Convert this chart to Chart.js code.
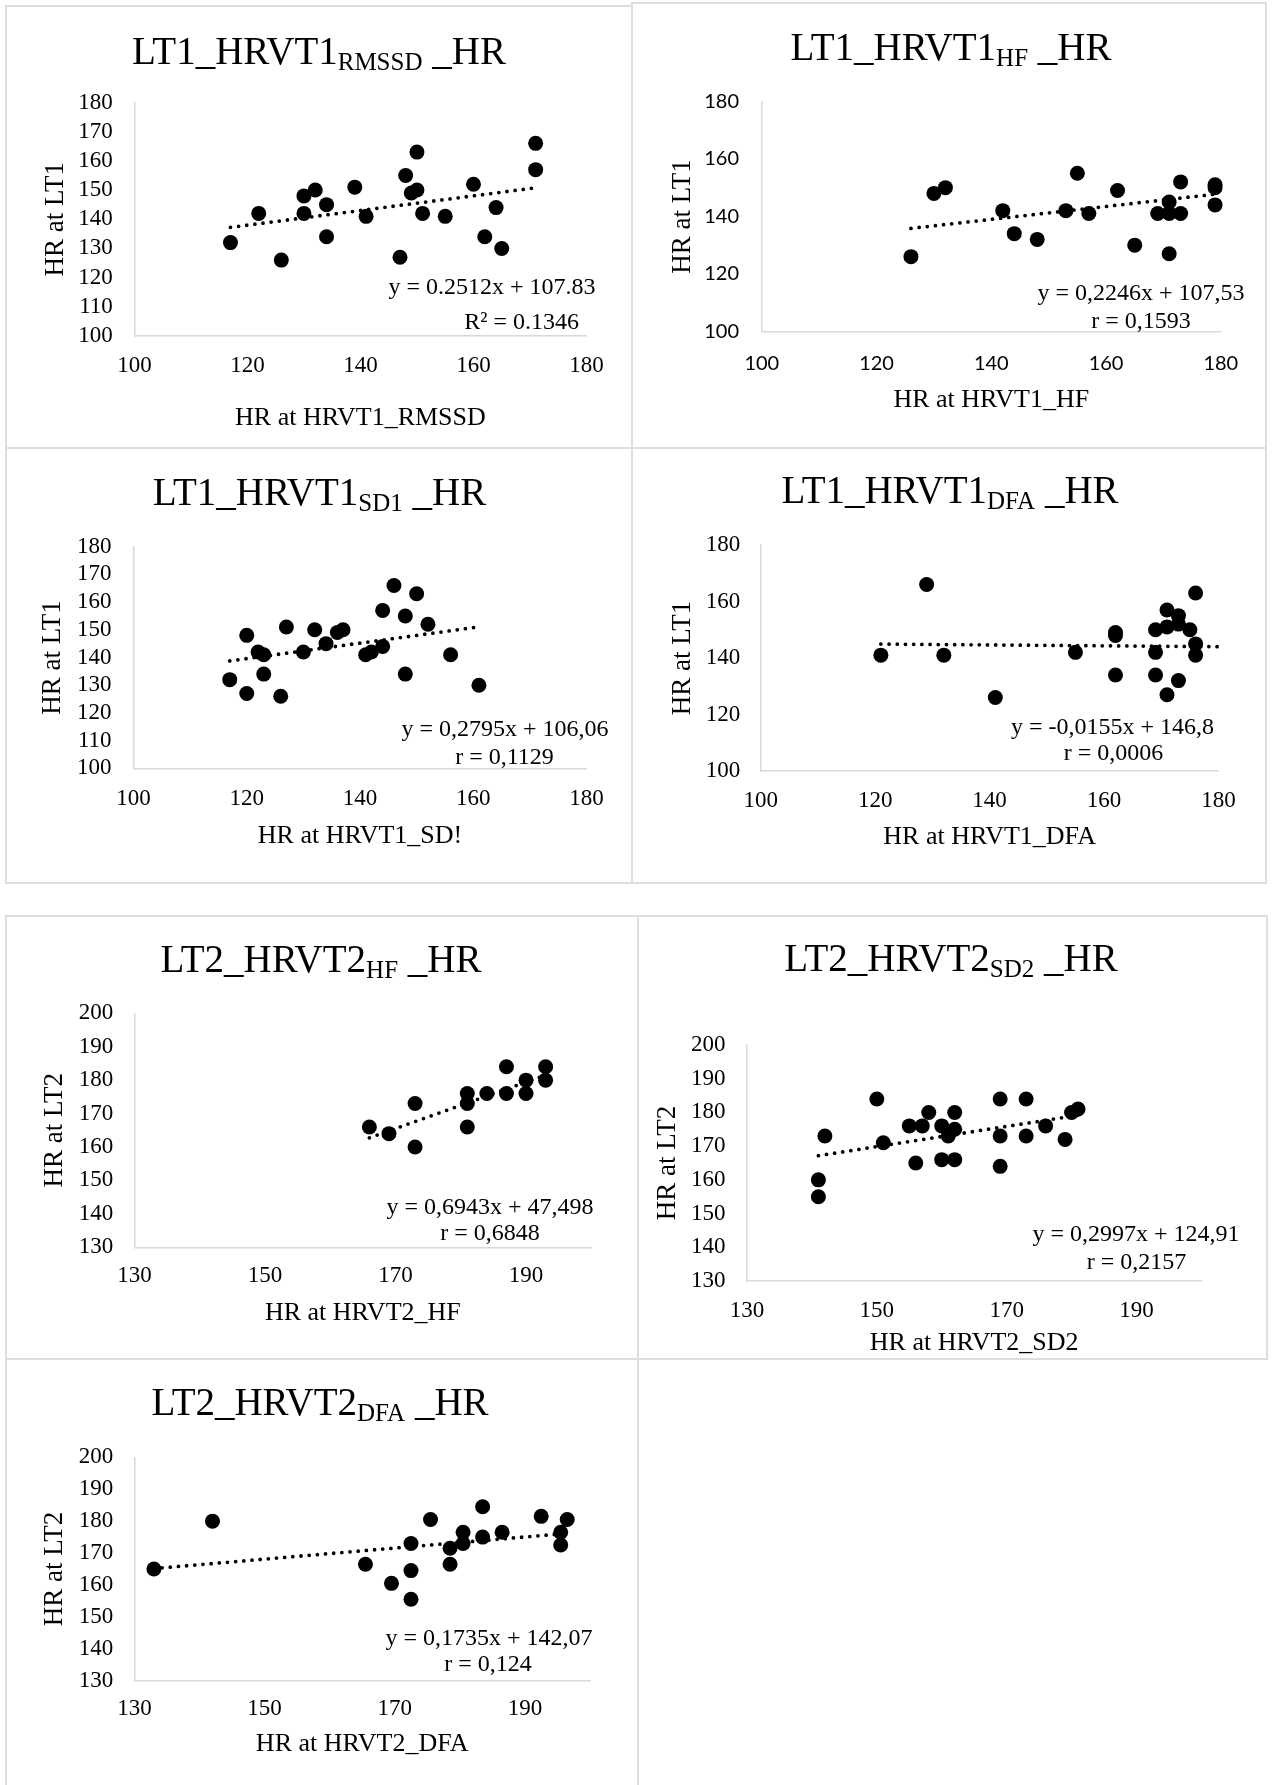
<!DOCTYPE html>
<html>
<head>
<meta charset="utf-8">
<script src="https://cdn.jsdelivr.net/npm/chart.js@4.4.1/dist/chart.umd.min.js"></script>
<style>
html, body { margin: 0; padding: 0; background: #fff; width: 1272px; height: 1785px; overflow: hidden; }
.panel { position: absolute; box-sizing: border-box; border: 2px solid #dedede; }
canvas { position: absolute; }
.ttl { position: absolute; width: 600px; text-align: center; white-space: nowrap; color: #000;
       font-family: "Liberation Serif", "Times New Roman", serif; font-size: 39px; line-height: 39px; }
.ttl span { position: relative; top: 6px; font-size: 25px; line-height: 0; }
</style>
</head>
<body>
<script>
// chart texts
const titleMain = ['LT1_HRVT1', 'LT1_HRVT1', 'LT1_HRVT1', 'LT1_HRVT1', 'LT2_HRVT2', 'LT2_HRVT2', 'LT2_HRVT2'];
const titleSub = ['RMSSD', 'HF', 'SD1', 'DFA', 'HF', 'SD2', 'DFA'];
const xTitles = ['HR at HRVT1_RMSSD', 'HR at HRVT1_HF', 'HR at HRVT1_SD!', 'HR at HRVT1_DFA',
                 'HR at HRVT2_HF', 'HR at HRVT2_SD2', 'HR at HRVT2_DFA'];
const yTitles = ['HR at LT1', 'HR at LT1', 'HR at LT1', 'HR at LT1', 'HR at LT2', 'HR at LT2', 'HR at LT2'];
const eqLine1 = ['y = 0.2512x + 107.83', 'y = 0,2246x + 107,53', 'y = 0,2795x + 106,06', 'y = -0,0155x + 146,8',
                 'y = 0,6943x + 47,498', 'y = 0,2997x + 124,91', 'y = 0,1735x + 142,07'];
const eqLine2 = ['R² = 0.1346', 'r = 0,1593', 'r = 0,1129', 'r = 0,0006', 'r = 0,6848', 'r = 0,2157', 'r = 0,124'];

// axis ranges and tick labels
const xMin = [100, 100, 100, 100, 130, 130, 130];
const xMax = [180, 180, 180, 180, 200, 200, 200];
const yMin = [100, 100, 100, 100, 130, 130, 130];
const yMax = [180, 180, 180, 180, 200, 200, 200];
const ticksLT1x = [100, 120, 140, 160, 180];
const ticksLT2x = [130, 150, 170, 190];
const ticks10 = [100, 110, 120, 130, 140, 150, 160, 170, 180];
const ticks20 = [100, 120, 140, 160, 180];
const ticksLT2y = [130, 140, 150, 160, 170, 180, 190, 200];
const xTicks = [ticksLT1x, ticksLT1x, ticksLT1x, ticksLT1x, ticksLT2x, ticksLT2x, ticksLT2x];
const yTicks = [ticks10, ticks20, ticks10, ticks20, ticksLT2y, ticksLT2y, ticksLT2y];

// trendlines (from the printed equations)
const slopes = [0.2512, 0.2246, 0.2795, -0.0155, 0.6943, 0.2997, 0.1735];
const intercepts = [107.83, 107.53, 106.06, 146.8, 47.498, 124.91, 142.07];
const trendFrom = [117, 126, 117, 121, 166, 141, 133];
const trendTo = [171, 179, 161, 180, 193, 181, 196];

// series
const rmssdX = [117, 122, 126, 130, 130, 132, 134, 134, 139, 141, 147, 148, 149, 150, 150, 151, 155, 160, 162, 164, 165, 171, 171];
const rmssdY = [132, 142, 126, 142, 148, 150, 145, 134, 151, 141, 127, 155, 149, 163, 150, 142, 141, 152, 134, 144, 130, 166, 157];

const hf1X = [126, 130, 132, 142, 144, 148, 153, 155, 157, 162, 165, 169, 171, 171, 171, 173, 173, 179, 179, 179];
const hf1Y = [126, 148, 150, 142, 134, 132, 142, 155, 141, 149, 130, 141, 145, 141, 127, 152, 141, 151, 150, 144];

const sd1X = [117, 120, 120, 122, 123, 123, 126, 127, 130, 132, 134, 136, 137, 141, 142, 144, 144, 146, 148, 148, 150, 152, 156, 161];
const sd1Y = [132, 148, 127, 142, 141, 134, 126, 151, 142, 150, 145, 149, 150, 141, 142, 157, 144, 166, 155, 134, 163, 152, 141, 130];

const dfa1X = [121, 129, 132, 141, 155, 162, 162, 162, 169, 169, 169, 171, 171, 171, 173, 173, 173, 175, 176, 176, 176];
const dfa1Y = [141, 166, 141, 126, 142, 149, 148, 134, 150, 142, 134, 157, 151, 127, 155, 152, 132, 150, 163, 145, 141];

const hf2X = [166, 169, 173, 173, 181, 181, 181, 184, 187, 187, 190, 190, 193, 193];
const hf2Y = [166, 164, 173, 160, 176, 173, 166, 176, 184, 176, 180, 176, 184, 180];

const sd2X = [141, 141, 142, 150, 151, 155, 156, 157, 158, 160, 160, 161, 162, 162, 162, 169, 169, 169, 173, 173, 176, 179, 180, 181];
const sd2Y = [160, 155, 173, 184, 171, 176, 165, 176, 180, 176, 166, 173, 180, 175, 166, 184, 173, 164, 184, 173, 176, 172, 180, 181];

const dfa2X = [133, 142, 165.5, 169.5, 172.5, 172.5, 172.5, 175.5, 178.5, 178.5, 180.5, 180.5, 183.5, 183.5, 186.5, 192.5, 195.5, 195.5, 196.5];
const dfa2Y = [165, 180, 166.5, 160.5, 173, 164.5, 155.5, 180.5, 171.5, 166.5, 176.5, 173, 184.5, 175, 176.5, 181.5, 176.5, 172.5, 180.5];

const seriesX = [rmssdX, hf1X, sd1X, dfa1X, hf2X, sd2X, dfa2X];
const seriesY = [rmssdY, hf1Y, sd1Y, dfa1Y, hf2Y, sd2Y, dfa2Y];

// page layout (px on the page)
const serif = '"Liberation Serif", "Times New Roman", serif';
const sans = 'Lato, "Noto Sans", sans-serif';
const layout = [
  {box: [6, 6, 632, 448], plot: [134.4, 102.5, 586.5, 336], yGap: 21.6, xTick: 365.5, xTitle: 418.3, yTitle: 56,
   eq: [[492, 288], [521.6, 322.5]], title: [319, 63.3], tickFont: serif, tickSize: 23},
  {box: [632, 3, 1266, 448], plot: [761.8, 101.4, 1220.8, 331.4], yGap: 22.8, xTick: 363.3, xTitle: 400, yTitle: 682.5,
   eq: [[1141, 293.5], [1141, 321.5]], title: [951, 60], tickFont: sans, tickSize: 20},
  {box: [6, 448, 632, 883], plot: [133.5, 546.7, 586.5, 768.3], yGap: 21.9, xTick: 799.2, xTitle: 836, yTitle: 53.3,
   eq: [[505, 729.3], [504.5, 757.7]], title: [319.5, 504.3], tickFont: serif, tickSize: 23},
  {box: [632, 448, 1266, 883], plot: [760.7, 545, 1218.5, 771], yGap: 20.4, xTick: 800.8, xTitle: 836.7, yTitle: 682.5,
   eq: [[1112.5, 728], [1113.5, 754.2]], title: [950, 503], tickFont: serif, tickSize: 23},
  {box: [6, 916, 638, 1359], plot: [134.4, 1013.3, 591.3, 1247.3], yGap: 21.2, xTick: 1275.8, xTitle: 1313.3, yTitle: 55,
   eq: [[490, 1207.7], [490, 1234]], title: [321, 971.7], tickFont: serif, tickSize: 23},
  {box: [638, 916, 1267, 1359], plot: [747, 1045, 1201.4, 1281], yGap: 21.4, xTick: 1310.8, xTitle: 1343.3, yTitle: 668.3,
   eq: [[1136, 1235], [1136.5, 1262.8]], title: [951, 970.7], tickFont: serif, tickSize: 23},
  {box: [6, 1359, 638, 1792], plot: [134.4, 1457.3, 590, 1680.7], yGap: 21.2, xTick: 1709.2, xTitle: 1744, yTitle: 55,
   eq: [[489, 1638.5], [488, 1664.8]], title: [320, 1415], tickFont: serif, tickSize: 23}
];

const xTitleSize = 26;
const yTitleSize = 27;
const eqSize = 24;

// draws the trendline equation text
const eqPlugin = {
  id: 'eqText',
  afterDraw(chart, args, opts) {
    const ctx = chart.ctx;
    ctx.save();
    ctx.font = eqSize + 'px ' + serif;
    ctx.fillStyle = '#000';
    ctx.textAlign = 'center';
    ctx.textBaseline = 'middle';
    opts.lines.forEach(l => ctx.fillText(l.text, l.x, l.y));
    ctx.restore();
  }
};

layout.forEach((L, i) => {
  const [bl, bt, br, bb] = L.box;
  const [pl, pt, pr, pb] = L.plot;
  const w = br - bl, h = bb - bt;

  const frame = document.createElement('div');
  frame.className = 'panel';
  frame.style.left = (bl - 1) + 'px';
  frame.style.top = (bt - 1) + 'px';
  frame.style.width = (w + 2) + 'px';
  frame.style.height = (h + 2) + 'px';
  document.body.appendChild(frame);

  const cv = document.createElement('canvas');
  cv.width = w;
  cv.height = h;
  cv.style.left = bl + 'px';
  cv.style.top = bt + 'px';
  document.body.appendChild(cv);

  const ttl = document.createElement('div');
  ttl.className = 'ttl';
  ttl.style.left = (L.title[0] - 300) + 'px';
  ttl.style.top = (L.title[1] - 32.7) + 'px';
  ttl.innerHTML = titleMain[i] + '<span>' + titleSub[i] + '</span> _HR';
  document.body.appendChild(ttl);

  const points = seriesX[i].map((x, k) => ({x: x, y: seriesY[i][k]}));
  const trend = [trendFrom[i], trendTo[i]].map(x => ({x: x, y: slopes[i] * x + intercepts[i]}));

  new Chart(cv, {
    type: 'scatter',
    data: {
      datasets: [{
        data: points,
        pointRadius: 7.5,
        pointHoverRadius: 7.5,
        pointBorderWidth: 0,
        backgroundColor: '#000',
        borderColor: '#000',
        clip: false
      }, {
        type: 'line',
        data: trend,
        showLine: true,
        pointRadius: 0,
        borderColor: '#000',
        borderWidth: 3.8,
        borderDash: [0, 8.2],
        borderCapStyle: 'round',
        fill: false,
        clip: false
      }]
    },
    plugins: [eqPlugin],
    options: {
      responsive: false,
      animation: false,
      layout: {padding: {left: 0, top: pt - bt, right: br - pr, bottom: 0}},
      plugins: {
        legend: {display: false},
        tooltip: {enabled: false},
        eqText: {lines: [
          {text: eqLine1[i], x: L.eq[0][0] - bl, y: L.eq[0][1] - bt},
          {text: eqLine2[i], x: L.eq[1][0] - bl, y: L.eq[1][1] - bt}
        ]}
      },
      scales: {
        x: {
          type: 'linear',
          min: xMin[i], max: xMax[i],
          afterFit: s => { s.height = bb - pb; },
          afterBuildTicks: s => { s.ticks = xTicks[i].map(v => ({value: v})); },
          grid: {display: false, drawTicks: false},
          border: {display: true, color: '#d9d9d9', width: 1.5},
          ticks: {
            autoSkip: false, maxRotation: 0,
            color: '#000', font: {family: L.tickFont, size: L.tickSize},
            padding: (L.xTick - pb) - 0.6 * L.tickSize
          },
          title: {
            display: true, text: xTitles[i], color: '#000',
            font: {family: serif, size: xTitleSize},
            padding: {top: 0, bottom: Math.max(0, (bb - L.xTitle) - 0.6 * xTitleSize)}
          }
        },
        y: {
          type: 'linear',
          min: yMin[i], max: yMax[i],
          afterFit: s => { s.width = pl - bl; },
          afterBuildTicks: s => { s.ticks = yTicks[i].map(v => ({value: v})); },
          grid: {display: false, drawTicks: false},
          border: {display: true, color: '#d9d9d9', width: 1.5},
          ticks: {
            autoSkip: false,
            color: '#000', font: {family: L.tickFont, size: L.tickSize},
            padding: L.yGap
          },
          title: {
            display: true, text: yTitles[i], color: '#000',
            font: {family: serif, size: yTitleSize},
            padding: {top: (L.yTitle - bl) - 0.6 * yTitleSize, bottom: 0}
          }
        }
      }
    }
  });
});
</script>
</body>
</html>
